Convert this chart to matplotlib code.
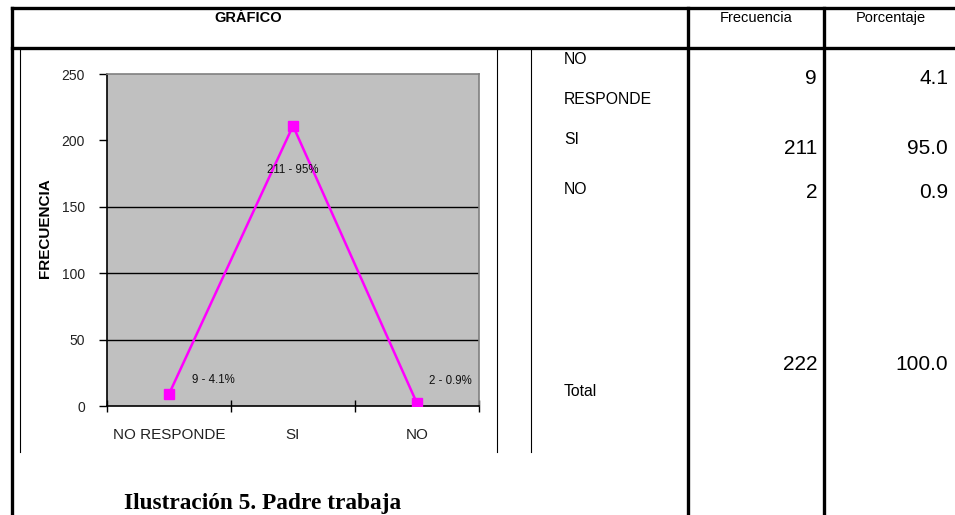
import matplotlib
matplotlib.use('Agg')
import matplotlib.pyplot as plt
plt.rcParams['font.family'] = ['Liberation Sans', 'DejaVu Sans']

# datos de la tabla / grafico
categorias = ['NO RESPONDE', 'SI', 'NO']
frecuencia = [9, 211, 2]
porcentaje = [4.1, 95.0, 0.9]
etiquetas = ['9 - 4.1%', '211 - 95%', '2 - 0.9%']
total_frec = 222
total_porc = 100.0
y_ticks = [0, 50, 100, 150, 200, 250]

W, H = 955, 515
fig = plt.figure(figsize=(W / 100, H / 100), dpi=100)

# capa de la tabla en coordenadas de pixel
tab = fig.add_axes([0, 0, 1, 1])
tab.set_xlim(0, W)
tab.set_ylim(H, 0)
tab.axis('off')

grueso = 2.4
tab.plot([12, W], [8, 8], color='black', lw=grueso)
tab.plot([12, W], [47.5, 47.5], color='black', lw=grueso)
for x in [12, 688, 824]:
    tab.plot([x, x], [8, H], color='black', lw=grueso)
for x in [20, 497, 531]:
    tab.plot([x, x], [50, 452], color='black', lw=0.8)

tab.text(248, 18, 'GRÁFICO', ha='center', va='center', fontsize=10.5, fontweight='bold')
tab.text(756, 18, 'Frecuencia', ha='center', va='center', fontsize=10.5)
tab.text(891, 18, 'Porcentaje', ha='center', va='center', fontsize=10.5)

tab.text(564, 60, 'NO', ha='left', va='center', fontsize=11.3)
tab.text(564, 99, 'RESPONDE', ha='left', va='center', fontsize=11.3)
tab.text(564, 140, 'SI', ha='left', va='center', fontsize=11.3)
tab.text(564, 190, 'NO', ha='left', va='center', fontsize=11.3)
tab.text(564, 391, 'Total', ha='left', va='center', fontsize=11.3)

filas_y = [78, 148, 193]
for yy, f, p in zip(filas_y, frecuencia, porcentaje):
    tab.text(817, yy, str(f), ha='right', va='center', fontsize=15)
    tab.text(948, yy, f'{p:.1f}', ha='right', va='center', fontsize=15)
tab.text(817, 364, str(total_frec), ha='right', va='center', fontsize=15)
tab.text(948, 364, f'{total_porc:.1f}', ha='right', va='center', fontsize=15)

tab.text(263, 503, 'Ilustración 5. Padre trabaja', ha='center', va='center',
         fontsize=16.8, fontweight='bold', family='Liberation Serif')

# grafico de lineas
x0, x1, y0, y1 = 107, 479, 74, 406
ax = fig.add_axes([x0 / W, 1 - y1 / H, (x1 - x0) / W, (y1 - y0) / H])
ax.set_facecolor('#C0C0C0')
xs = list(range(len(categorias)))
ax.plot(xs, frecuencia, color='#FF00FF', lw=1.8, marker='s', markersize=7,
        markerfacecolor='#FF00FF', markeredgecolor='#FF00FF', zorder=3)

ax.set_xlim(-0.5, len(categorias) - 0.5)
ax.set_ylim(0, 250)
ax.set_yticks(y_ticks)
ax.set_yticklabels([str(v) for v in y_ticks], fontsize=10, color='#222222')
ax.set_xticks(xs)
ax.set_xticklabels(categorias, fontsize=11, color='#222222')
ax.set_xticks([i - 0.5 for i in range(len(categorias) + 1)], minor=True)
ax.tick_params(axis='x', which='major', length=0, pad=16)
ax.tick_params(axis='x', which='minor', direction='inout', length=8, width=1)
ax.tick_params(axis='y', direction='out', length=6, width=1, pad=10)

ax.grid(axis='y', color='black', lw=1)
lineas = ax.yaxis.get_gridlines()
for i in [0, 4, 5]:
    lineas[i].set_visible(False)
ax.set_axisbelow(True)

for s in ['left', 'bottom']:
    ax.spines[s].set_color('black')
    ax.spines[s].set_linewidth(1.2)
for s in ['top', 'right']:
    ax.spines[s].set_color('#808080')
    ax.spines[s].set_linewidth(1.2)

offsets = [(32, 10), (0, -32), (24, 16)]
for xi, yi, txt, off in zip(xs, frecuencia, etiquetas, offsets):
    ax.annotate(txt, (xi, yi), xytext=off, textcoords='offset points',
                ha='center', va='center', fontsize=8.3, color='#111111')

ax.set_ylabel('FRECUENCIA', fontsize=11, fontweight='bold')
ax.yaxis.set_label_coords(-0.148, 0.536)

fig.savefig('out.png', dpi=100)
